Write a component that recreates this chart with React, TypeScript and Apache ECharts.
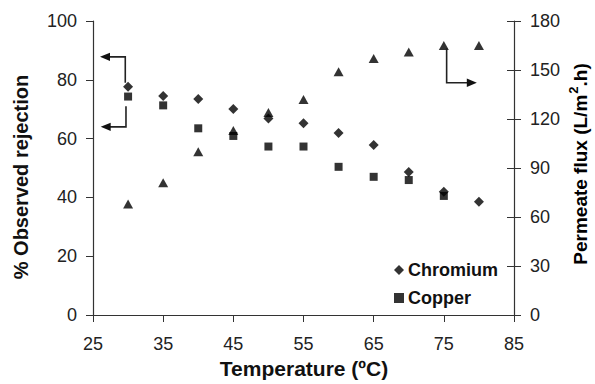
import React, { useEffect, useRef } from "react";
import * as echarts from "echarts";

const temperatures = [30, 35, 40, 45, 50, 55, 60, 65, 70, 75, 80];
const chromium = [77.6, 74.5, 73.5, 70.1, 66.8, 65.2, 61.9, 57.8, 48.6, 41.9, 38.5];
const copperTemps = [30, 35, 40, 45, 50, 55, 60, 65, 70, 75];
const copper = [74.3, 71.3, 63.5, 60.9, 57.3, 57.3, 50.4, 47.0, 45.9, 40.5];
const flux = [68, 81, 100, 113, 124, 132, 149, 157, 161, 165, 165];

const xTicks = { min: 25, max: 85, interval: 10 };
const leftTicks = { min: 0, max: 100, interval: 20 };
const rightTicks = { min: 0, max: 180, interval: 30 };

// annotation arrows in data coordinates (x: temperature, y: left-axis value)
const arrowUpper = [[29.6, 79], [29.6, 87.8], [26.0, 87.8]];
const arrowLower = [[29.7, 71], [29.7, 64.0], [26.1, 64.0]];
const arrowRight = [[75.4, 90.8], [75.4, 79.0], [79.7, 79.0]];

const FONT = "'Liberation Sans', Arial, Helvetica, sans-serif";

export default function App() {
  const ref = useRef<HTMLDivElement>(null);
  useEffect(() => {
    if (!ref.current) return;
    const chart = echarts.init(ref.current, null, { renderer: "svg" });
    const axisLine = { show: true, lineStyle: { color: "#333", width: 1.2 } };
    const label = { color: "#222", fontSize: 18, fontFamily: FONT };
    chart.setOption({
      animation: false,
      backgroundColor: "#fff",
      textStyle: { fontFamily: FONT },
      grid: { left: 93, right: 81, top: 21, bottom: 69, containLabel: false },
      legend: {
        data: [
          { name: "Chromium", icon: "diamond" },
          { name: "Copper", icon: "rect" },
        ],
        orient: "vertical",
        left: 394,
        top: 261,
        itemWidth: 10,
        itemHeight: 10,
        itemGap: 10,
        padding: 0,
        textStyle: { fontSize: 18, fontWeight: "bold", color: "#111", fontFamily: FONT, padding: [0, 0, 0, -1] },
      },
      xAxis: {
        type: "value",
        ...xTicks,
        axisLine,
        axisTick: { show: true, inside: false, length: 7, lineStyle: { color: "#333" } },
        axisLabel: { ...label, margin: 20 },
        splitLine: { show: false },
      },
      yAxis: [
        {
          type: "value",
          position: "left",
          ...leftTicks,
          axisLine,
          axisTick: { show: true, inside: false, length: 7, lineStyle: { color: "#333" } },
          axisLabel: { ...label, margin: 16 },
          splitLine: { show: false },
        },
        {
          type: "value",
          position: "right",
          ...rightTicks,
          axisLine,
          axisTick: { show: true, inside: false, length: 7, lineStyle: { color: "#333" } },
          axisLabel: { ...label, margin: 16 },
          splitLine: { show: false },
        },
        {
          type: "value",
          position: "right",
          ...rightTicks,
          axisLine: { show: false },
          axisTick: { show: true, inside: true, length: 7, lineStyle: { color: "#333" } },
          axisLabel: { show: false },
          splitLine: { show: false },
        },
      ],
      series: [
        {
          name: "Chromium",
          type: "scatter",
          yAxisIndex: 0,
          symbol: "diamond",
          symbolSize: [10, 10],
          itemStyle: { color: "#000" },
          data: temperatures.map((t, i) => [t, chromium[i]]),
          z: 3,
        },
        {
          name: "Copper",
          type: "scatter",
          yAxisIndex: 0,
          symbol: "rect",
          symbolSize: 8,
          itemStyle: { color: "#000" },
          data: copperTemps.map((t, i) => [t, copper[i]]),
          z: 2,
        },
        {
          name: "Permeate flux",
          type: "scatter",
          yAxisIndex: 1,
          symbol: "triangle",
          symbolSize: [10, 9],
          itemStyle: { color: "#000" },
          data: temperatures.map((t, i) => [t, flux[i]]),
          z: 2,
        },
      ],
      graphic: [
        {
          type: "text",
          x: 21,
          y: 177,
          rotation: Math.PI / 2,
          style: {
            text: "% Observed rejection",
            font: `bold 20px ${FONT}`,
            fill: "#111",
            align: "center",
            verticalAlign: "middle",
          },
        },
        {
          type: "text",
          x: 304,
          y: 368,
          style: {
            text: "Temperature (ºC)",
            font: `bold 21px ${FONT}`,
            fill: "#111",
            align: "center",
            verticalAlign: "middle",
          },
        },
        {
          type: "text",
          x: 580,
          y: 164,
          rotation: Math.PI / 2,
          style: {
            text: "{a|Permeate flux (L/m}{s|2}{a|.h)}",
            align: "center",
            verticalAlign: "middle",
            rich: {
              a: { fontSize: 19, fontWeight: "bold", fontFamily: FONT, color: "#111" },
              s: { fontSize: 13, fontWeight: "bold", fontFamily: FONT, color: "#111", verticalAlign: "top", padding: [0, 0, 14, 1] },
            },
          },
        },
      ],
    });

    const toPx = (p: number[]) => chart.convertToPixel({ xAxisIndex: 0, yAxisIndex: 0 }, p) as number[];
    const makeArrow = (pts: number[][], id: string) => {
      const px = pts.map(toPx);
      const a = px[px.length - 2];
      const b = px[px.length - 1];
      const dx = b[0] - a[0];
      const dy = b[1] - a[1];
      const len = Math.hypot(dx, dy) || 1;
      const ux = dx / len;
      const uy = dy / len;
      const hl = 10;
      const hw = 4.2;
      const base = [b[0] - ux * hl, b[1] - uy * hl];
      const lineEnd = [b[0] - ux * (hl - 1), b[1] - uy * (hl - 1)];
      return [
        {
          id: id + "-line",
          type: "polyline",
          shape: { points: [...px.slice(0, -1), lineEnd] },
          style: { stroke: "#222", lineWidth: 1.6, fill: null },
          z: 10,
        },
        {
          id: id + "-head",
          type: "polygon",
          shape: {
            points: [
              b,
              [base[0] - uy * hw, base[1] + ux * hw],
              [base[0] + uy * hw, base[1] - ux * hw],
            ],
          },
          style: { fill: "#111" },
          z: 10,
        },
      ];
    };
    chart.setOption({
      graphic: [
        ...makeArrow(arrowUpper, "au"),
        ...makeArrow(arrowLower, "al"),
        ...makeArrow(arrowRight, "ar"),
      ],
    });

    return () => chart.dispose();
  }, []);
  return (
    <div
      ref={ref}
      style={{ position: "fixed", left: 0, top: 0, width: 595, height: 384, background: "#fff" }}
    />
  );
}
